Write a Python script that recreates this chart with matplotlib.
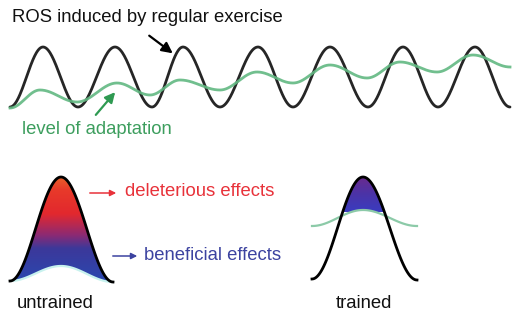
import matplotlib.pyplot as plt
import numpy as np
from matplotlib.colors import LinearSegmentedColormap

plt.rcParams['font.family'] = ['Liberation Sans', 'DejaVu Sans']

# turning points of the curves (pixel coords, y down)
ros_x = [10, 43, 78, 115, 152, 183, 220, 258, 293, 330, 368, 403, 438, 475, 510]
ros_y = [107, 47, 107, 47, 107, 47, 107, 47, 107, 47, 107, 47, 107, 47, 107]
adapt_x = [10, 40, 77, 117, 150, 180, 220, 257, 293, 330, 367, 400, 437, 473, 510]
adapt_y = [108, 90, 102, 83, 95, 80, 90, 72, 83, 65, 78, 62, 72, 55, 67]

untrained_x = [10, 61, 113]
untrained_y = [281, 177, 282]
untrained_low_y = [281, 266, 282]
trained_x = [312, 363, 417]
trained_y = [279, 177, 280]
trained_adapt_y = [226, 210, 226]


def smooth(xs, ys, n=60):
    # half-cosine segments between turning points
    px, py = [], []
    for i in range(len(xs) - 1):
        t = np.linspace(0, 1, n)
        s = (1 - np.cos(np.pi * t)) / 2
        px.append(xs[i] + (xs[i + 1] - xs[i]) * t)
        py.append(ys[i] + (ys[i + 1] - ys[i]) * s)
    return np.concatenate(px), np.concatenate(py)


fig = plt.figure(figsize=(5.16, 3.15), dpi=100)
ax = fig.add_axes([0, 0, 1, 1])
ax.set_xlim(0, 516)
ax.set_ylim(315, 0)
ax.axis('off')

fs = 13.3

# top waves
x, y = smooth(ros_x, ros_y)
ax.plot(x, y, color='#262626', lw=2.0, solid_capstyle='round')
x, y = smooth(adapt_x, adapt_y)
ax.plot(x, y, color='#62b882', lw=2.0, alpha=0.9)

ax.text(12, 18, 'ROS induced by regular exercise', fontsize=fs, color='#111111', va='center')
ax.annotate('', xy=(175, 55), xytext=(147, 34),
            arrowprops=dict(arrowstyle='-|>', color='black', lw=1.6, mutation_scale=16))
ax.text(22, 130, 'level of adaptation', fontsize=fs, color='#3d9e5e', va='center')
ax.annotate('', xy=(117, 90), xytext=(94, 117),
            arrowprops=dict(arrowstyle='-|>', color='#2f9a52', lw=1.6, mutation_scale=15))

# untrained bell
red_blue = LinearSegmentedColormap.from_list(
    'rb', [(0.0, '#e8602a'), (0.12, '#e83a2a'), (0.35, '#e2282e'), (0.55, '#8e2a72'),
           (0.68, '#3c389a'), (1.0, '#2a48b0')])
ux, uy = smooth(untrained_x, untrained_y)
_, ly = smooth(untrained_x, untrained_low_y)
poly = ax.fill_between(ux, uy, ly, color='none', lw=0)
grad = np.linspace(0, 1, 256).reshape(-1, 1)
im = ax.imshow(grad, cmap=red_blue, aspect='auto', extent=(5, 118, 282, 177), zorder=1)
im.set_clip_path(poly.get_paths()[0], transform=ax.transData)
ax.plot(ux, ly, color='#c8f2ee', lw=1.6, zorder=2)
ax.plot(ux, uy, color='black', lw=2.0, zorder=3)

# trained bell
purple_blue = LinearSegmentedColormap.from_list('pb', ['#6a2a8e', '#4a34a8', '#3a3cc0'])
tx, ty = smooth(trained_x, trained_y)
_, gy = smooth(trained_x, trained_adapt_y)
poly = ax.fill_between(tx, ty, gy, where=ty < gy, color='none', lw=0)
im = ax.imshow(grad, cmap=purple_blue, aspect='auto', extent=(310, 420, 212, 177), zorder=1)
im.set_clip_path(poly.get_paths()[0], transform=ax.transData)
ax.plot(tx, gy, color='#8ccaa8', lw=1.6, zorder=2)
ax.plot(tx, ty, color='black', lw=2.0, zorder=3)

# labels
ax.annotate('', xy=(119, 193), xytext=(87, 193),
            arrowprops=dict(arrowstyle='-|>', color='#e8323a', lw=1.1, mutation_scale=9))
ax.text(125, 192, 'deleterious effects', fontsize=fs, color='#e8323a', va='center')
ax.annotate('', xy=(140, 256), xytext=(110, 256),
            arrowprops=dict(arrowstyle='-|>', color='#3c43a0', lw=1.1, mutation_scale=9))
ax.text(144, 255, 'beneficial effects', fontsize=fs, color='#3c43a0', va='center')
ax.text(55, 303, 'untrained', fontsize=fs, color='#111111', ha='center', va='center')
ax.text(364, 303, 'trained', fontsize=fs, color='#111111', ha='center', va='center')

fig.savefig('out.png', dpi=100)
